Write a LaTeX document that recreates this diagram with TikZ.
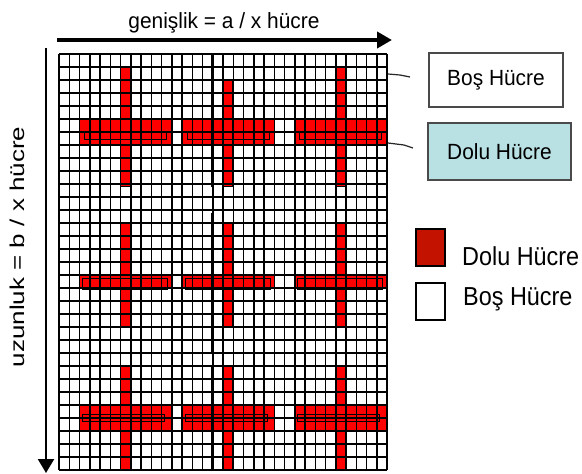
\documentclass[tikz,border=0pt]{standalone}
\usepackage{fontspec}
\setmainfont{Liberation Sans}
\newfontfamily\fa[FakeStretch=0.95]{Liberation Sans}
\newfontfamily\fb[FakeStretch=0.9]{Liberation Sans}
\newfontfamily\fc[FakeStretch=1.3]{Liberation Sans}
\usetikzlibrary{arrows.meta}
\definecolor{crossred}{HTML}{FF0000}
\definecolor{legred}{HTML}{C41200}
\definecolor{boxcyan}{HTML}{B9E0E3}
\definecolor{boxedge}{HTML}{4A4A4A}
\tikzset{
  gridln/.style={line width=1.5pt, black},
  outl/.style={line width=1.7pt, black},
  thinoutl/.style={line width=1.1pt, black},
  partln/.style={line width=2.6pt, black},
  lbl/.style={inner sep=0pt, font=\fa\fontsize{22}{26}\selectfont},
  vlbl/.style={inner sep=0pt, font=\fc\fontsize{20}{24}\selectfont},
  box/.style={draw=boxedge, line width=1.8pt, inner sep=0pt, font=\fa\fontsize{22}{26}\selectfont},
  legbox/.style={draw=black, line width=1.5pt, inner sep=0pt, minimum width=29pt, minimum height=37pt},
  legtxt/.style={inner sep=0pt, font=\fb\fontsize{26}{30}\selectfont},
  leader/.style={line width=1.2pt, black!85},
  bigarrow/.style={line width=4pt, -{Triangle[length=15pt,width=16pt]}},
  sidearrow/.style={line width=2.2pt, -{Triangle[length=14pt,width=16pt]}}
}
\begin{document}
\begin{tikzpicture}[x=1pt,y=-1pt]
\useasboundingbox (0,0) rectangle (582,474);
\fill[white] (0,0) rectangle (582,474);
\begin{scope}[shift={(59,54)},x=10.25pt,y=-13pt]
  % red fills
  \foreach \c/\s in {6/1,16/2,27/1} {
    \fill[crossred] (\c,\s) rectangle (\c+1,10.2);
    \fill[crossred] (\c-4,5) rectangle (\c+5,7);
    \fill[crossred] (\c,13) rectangle (\c+1,21);
    \fill[crossred] (\c-4,17) rectangle (\c+5,18);
    \fill[crossred] (\c,24) rectangle (\c+1,32);
    \fill[crossred] (\c-4,27) rectangle (\c+5,29);
  }
  % grid
  \foreach \i in {0,...,32} {
    \draw[gridln] (\i,0) -- (\i,32);
    \draw[gridln] (0,\i) -- (32,\i);
  }
  % outlines
  \foreach \c in {6,16,27} {
    \draw[outl] (\c,2) rectangle (\c+1,10.2);
    \draw[outl] (\c,13) rectangle (\c+1,21);
    \draw[outl] (\c,24) rectangle (\c+1,32);
    \draw[thinoutl] (\c-3.5,5.95) rectangle (\c+4.5,6.6);
    \draw[thinoutl] (\c-3.7,17.3) rectangle (\c+4.6,18.1);
    \draw[thinoutl] (\c-3.7,27.75) rectangle (\c+4.3,28.25);
  }
  % partition lines
  \draw[partln] (15,0) -- (15,10.2);
  \draw[partln] (15,12.2) -- (15,22.9);
  \draw[partln] (15,24) -- (15,32);
  \draw[partln] (0,24) -- (15,24);
\end{scope}
% arrows and labels
\coordinate (ta) at (57,40);
\coordinate (tb) at (392,40);
\draw[bigarrow] (ta) -- (tb);
\coordinate (la) at (46,48);
\coordinate (lb) at (46,473);
\draw[sidearrow] (la) -- (lb);
\node[lbl, anchor=base] (wlab) at (224,28) {genişlik = a / x hücre};
\node[vlbl, rotate=90, anchor=base] (hlab) at (24,247) {uzunluk = b / x hücre};
% boxes
\node[box, minimum width=134pt, minimum height=54pt] (bos) at (496,80) {Boş Hücre};
\node[box, fill=boxcyan, minimum width=143pt, minimum height=57pt] (dolu) at (499.5,151.5) {Dolu Hücre};
\coordinate (c1a) at (388,74);
\coordinate (c1b) at (410,77);
\draw[leader] (c1a) -- (400,75) -- (c1b);
\coordinate (c2a) at (388,143);
\coordinate (c2b) at (413,148);
\draw[leader] (c2a) -- (404,145) -- (c2b);
% legend
\node[legbox, fill=legred] (lr) at (430.5,247.5) {};
\node[legbox, fill=white] (lw) at (430.5,301.5) {};
\node[legtxt, anchor=base west] (lrt) at (462,265) {Dolu Hücre};
\node[legtxt, anchor=base west] (lwt) at (463,305) {Boş Hücre};
\end{tikzpicture}
\end{document}
